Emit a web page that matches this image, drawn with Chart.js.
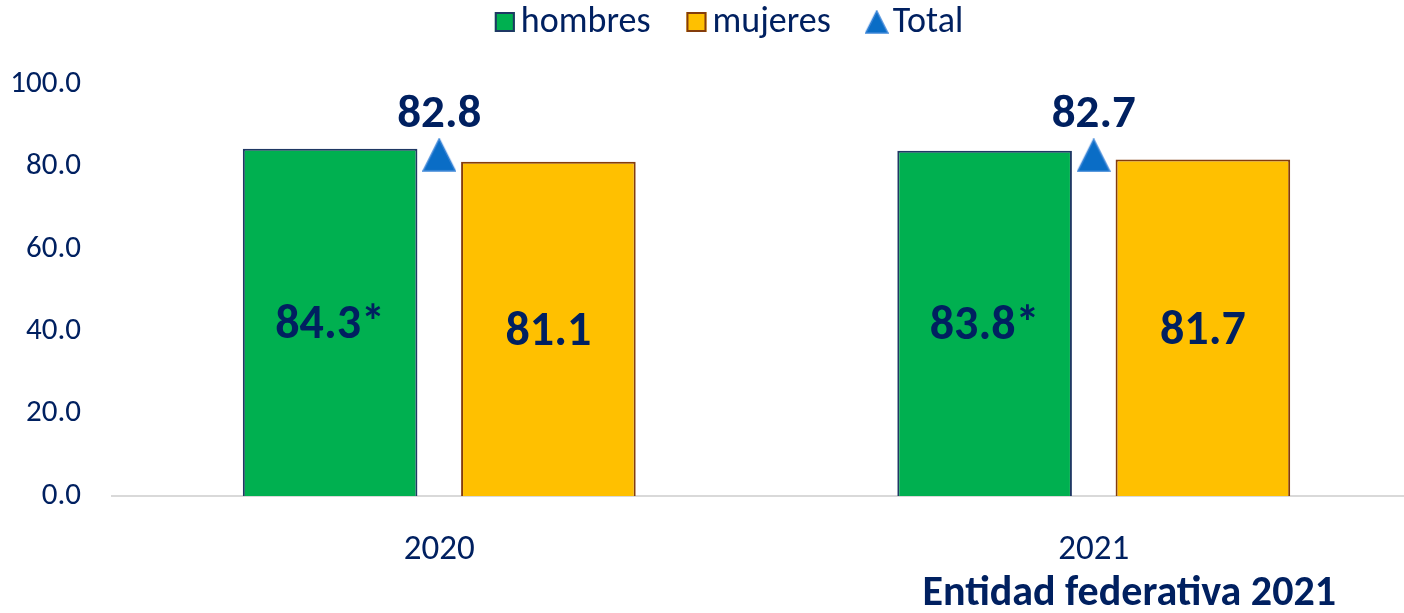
<!DOCTYPE html>
<html>
<head>
<meta charset="utf-8">
<script src="https://cdn.jsdelivr.net/npm/chart.js@4.4.1/dist/chart.umd.min.js"></script>
<style>
  html, body { margin: 0; padding: 0; background: #fff; overflow: hidden; }
  #c { display: block; }
</style>
</head>
<body>
<canvas id="c" width="1438" height="613"></canvas>
<script>
const categories = ['2020', '2021'];
const hombres = [84.3, 83.8];
const mujeres = [81.1, 81.7];
const total = [82.8, 82.7];
const hombresMark = ['*', '*'];
const yTicks = [0, 20, 40, 60, 80, 100];
const footnote = 'Entidad federativa 2021';

const NAVY = '#002060';
const FONT = "Carlito, Lato, 'Open Sans', sans-serif";

function triangleCanvas(w, h, fill, stroke) {
  const c = document.createElement('canvas');
  c.width = w; c.height = h;
  const g = c.getContext('2d');
  g.beginPath();
  g.moveTo(w / 2, 1);
  g.lineTo(w - 1, h - 1);
  g.lineTo(1, h - 1);
  g.closePath();
  g.fillStyle = fill;
  g.fill();
  if (stroke) { g.strokeStyle = stroke; g.lineWidth = 1.5; g.stroke(); }
  return c;
}
const triBig = triangleCanvas(34, 34, '#0A6DC6', '#3C86D8');
const triSmall = triangleCanvas(24, 24, '#0A6DC6', '#3C86D8');

// Legend drawn from the chart's datasets
const customLegend = {
  id: 'customLegend',
  afterDraw(chart) {
    const ctx = chart.ctx;
    ctx.save();
    ctx.font = '36px ' + FONT;
    ctx.textBaseline = 'middle';
    ctx.textAlign = 'left';
    const box = 20, gapText = 6, gapItem = 34, cy = 22;
    const items = chart.data.datasets.map(ds => ({
      ds, w: box + gapText + ctx.measureText(ds.label).width + 2
    }));
    const totalW = items.reduce((s, it) => s + it.w, 0) + gapItem * (items.length - 1);
    let x = 730 - totalW / 2;
    items.forEach(it => {
      const ds = it.ds;
      if (ds.type === 'line') {
        ctx.drawImage(triSmall, x - 2, cy - 12);
      } else {
        ctx.fillStyle = ds.backgroundColor;
        ctx.fillRect(x, cy - box / 2, box, box);
        ctx.strokeStyle = ds.borderColor;
        ctx.lineWidth = 2;
        ctx.strokeRect(x + 1, cy - box / 2 + 1, box - 2, box - 2);
      }
      ctx.fillStyle = NAVY;
      ctx.fillText(ds.label, x + box + gapText, cy + 1);
      x += it.w + gapItem;
    });
    ctx.restore();
  }
};

const valueLabels = {
  id: 'valueLabels',
  afterDatasetsDraw(chart) {
    const ctx = chart.ctx;
    ctx.save();
    ctx.fillStyle = NAVY;
    ctx.textAlign = 'center';
    ctx.textBaseline = 'middle';
    chart.data.datasets.forEach((ds, di) => {
      const meta = chart.getDatasetMeta(di);
      meta.data.forEach((el, i) => {
        const v = ds.data[i].toFixed(1);
        if (ds.type === 'line') {
          ctx.font = 'bold 47px ' + FONT;
          ctx.fillText(v, el.x, el.y - 40);
        } else {
          ctx.font = 'bold 48px ' + FONT;
          const suffix = di === 0 ? hombresMark[i] : '';
          ctx.fillText(v + suffix, el.x, (el.y + el.base) / 2 + 4);
        }
      });
    });
    ctx.font = 'bold 42px ' + FONT;
    ctx.textAlign = 'right';
    ctx.fillText(footnote, 1336, 594);
    ctx.restore();
  }
};

new Chart(document.getElementById('c'), {
  type: 'bar',
  data: {
    labels: categories,
    datasets: [
      {
        label: 'hombres',
        data: hombres,
        backgroundColor: '#00B050',
        borderColor: '#1F3864',
        borderWidth: 2,
        categoryPercentage: 0.667,
        barPercentage: 0.8
      },
      {
        label: 'mujeres',
        data: mujeres,
        backgroundColor: '#FFC000',
        borderColor: '#843C0C',
        borderWidth: 2,
        categoryPercentage: 0.667,
        barPercentage: 0.8
      },
      {
        type: 'line',
        label: 'Total',
        data: total,
        showLine: false,
        pointStyle: triBig,
        pointRadius: 17,
        pointHoverRadius: 17,
        backgroundColor: '#0A6DC6',
        borderColor: '#3C86D8',
        borderWidth: 0
      }
    ]
  },
  options: {
    responsive: false,
    animation: false,
    devicePixelRatio: 1,
    layout: { padding: { top: 84, left: 0, right: 0, bottom: 0 } },
    plugins: {
      legend: { display: false },
      tooltip: { enabled: false }
    },
    scales: {
      x: {
        grid: { display: false, drawTicks: false },
        border: { display: true, color: '#D9D9D9', width: 2 },
        ticks: { color: NAVY, font: { family: FONT, size: 35 }, padding: 33 },
        afterFit(scale) { scale.height = 117; }
      },
      y: {
        min: 0,
        max: 100,
        afterBuildTicks(scale) { scale.ticks = yTicks.map(v => ({ value: v })); },
        grid: { display: false, drawTicks: false },
        border: { display: false },
        ticks: {
          color: NAVY,
          font: { family: FONT, size: 31 },
          padding: 31,
          callback: v => Number(v).toFixed(1)
        },
        afterFit(scale) { scale.width = 112; }
      }
    }
  },
  plugins: [valueLabels, customLegend]
});
</script>
</body>
</html>
